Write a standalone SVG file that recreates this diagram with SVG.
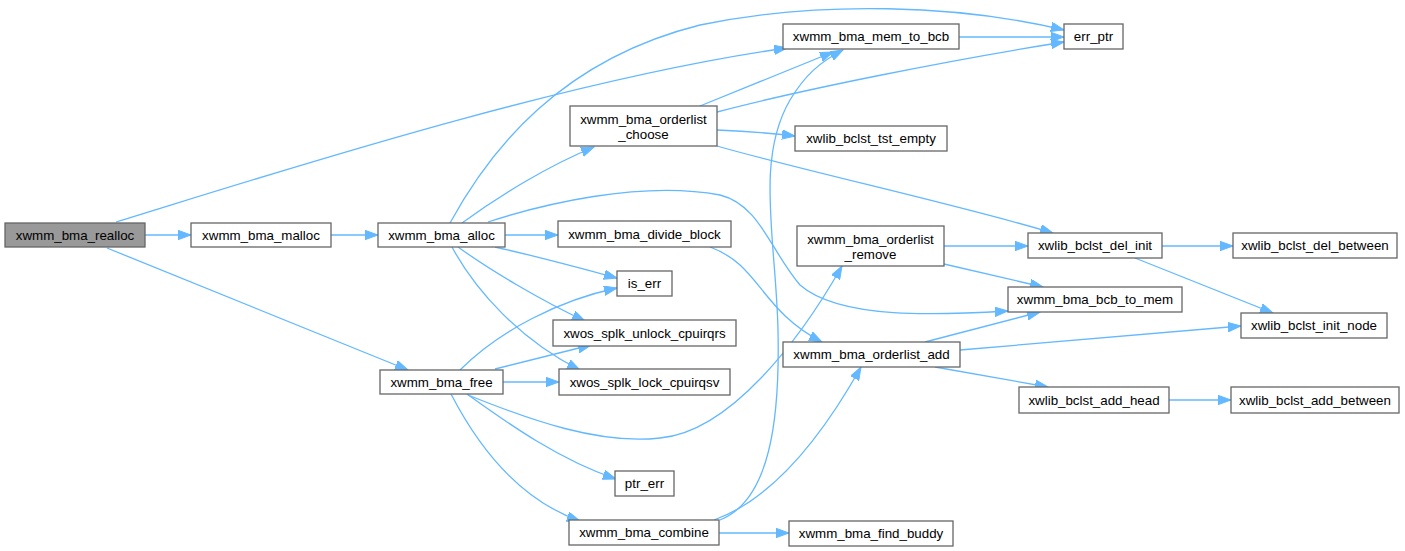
<svg xmlns="http://www.w3.org/2000/svg" width="1405" height="551" viewBox="0 0 1405 551">
<style>
.n rect{fill:#ffffff;stroke:#666666;stroke-width:1.3}
.n.cur rect{fill:#999999}
.n text{font-family:"Liberation Sans",Arial,sans-serif;font-size:13.33px;fill:#000000;text-anchor:middle}
.e path{fill:none;stroke:#63b8ff;stroke-width:1.3;marker-end:url(#ah)}
</style>
<defs>
<marker id="ah" markerUnits="userSpaceOnUse" markerWidth="14" markerHeight="10" refX="13" refY="4.7" orient="auto">
<path d="M0,0 L13,4.7 L0,9.4 z" fill="#63b8ff" stroke="#63b8ff" stroke-width="1"/>
</marker>
</defs>
<rect width="1405" height="551" fill="#ffffff"/>
<g id="edges" class="e">
<path d="M145,235 L191,235"/>
<path d="M107,248 L408,370"/>
<path d="M116,222 C260,178 560,80 787,48"/>
<path d="M331,235 L378,235"/>
<path d="M450,223 C490,150 560,60 700,25 C820,0 960,5 1064,30"/>
<path d="M462,223 C500,195 550,165 594,147"/>
<path d="M488,222 C540,205 640,180 720,195 C760,205 770,250 800,285 C840,320 940,315 1008,311"/>
<path d="M505,235 L558,235"/>
<path d="M495,247 C540,257 580,268 617,278"/>
<path d="M458,247 C490,270 540,300 585,321"/>
<path d="M452,247 C475,290 520,340 580,370"/>
<path d="M460,370 C500,330 560,300 617,288"/>
<path d="M495,369 L591,345"/>
<path d="M503,382 L559,382"/>
<path d="M468,395 C530,420 600,445 660,438 C730,432 800,340 842,266"/>
<path d="M467,394 C510,425 560,460 616,479"/>
<path d="M451,394 C480,450 520,500 580,521"/>
<path d="M719,533 L789,533"/>
<path d="M714,520 C770,500 820,440 861,367"/>
<path d="M720,520 C770,500 780,420 778,330 C776,240 755,160 790,100 C805,75 820,62 843,50"/>
<path d="M700,106 L833,52"/>
<path d="M717,112 C800,90 950,60 1064,42"/>
<path d="M717,130 C740,131 770,133 795,136"/>
<path d="M717,146 C800,170 960,205 1053,233"/>
<path d="M959,37 L1064,37"/>
<path d="M710,247 C760,265 760,310 822,342"/>
<path d="M944,246 L1028,246"/>
<path d="M944,264 L1043,287"/>
<path d="M1162,246 L1233,246"/>
<path d="M1135,258 L1273,313"/>
<path d="M925,342 L1040,312"/>
<path d="M960,350 L1241,326"/>
<path d="M935,367 L1048,387"/>
<path d="M1169,400 L1231,400"/>
</g>
<g id="realloc" class="n cur"><rect x="5" y="223" width="140" height="24"/><text x="75" y="239.5">xwmm_bma_realloc</text></g>
<g id="malloc" class="n"><rect x="191" y="223" width="140" height="24"/><text x="261" y="239.5">xwmm_bma_malloc</text></g>
<g id="alloc" class="n"><rect x="378" y="223" width="127" height="24"/><text x="441.5" y="239.5">xwmm_bma_alloc</text></g>
<g id="free" class="n"><rect x="380" y="370" width="123" height="24"/><text x="441.5" y="386.5">xwmm_bma_free</text></g>
<g id="mem_to_bcb" class="n"><rect x="783" y="24" width="176" height="25"/><text x="871" y="41">xwmm_bma_mem_to_bcb</text></g>
<g id="err_ptr" class="n"><rect x="1064" y="24" width="59" height="25"/><text x="1093.5" y="41">err_ptr</text></g>
<g id="orderlist_choose" class="n"><rect x="570" y="106" width="147" height="40"/><text x="643.5" y="124">xwmm_bma_orderlist</text><text x="643.5" y="139">_choose</text></g>
<g id="tst_empty" class="n"><rect x="795" y="126" width="152" height="25"/><text x="871" y="143">xwlib_bclst_tst_empty</text></g>
<g id="divide_block" class="n"><rect x="558" y="221" width="173" height="26"/><text x="644.5" y="238.5">xwmm_bma_divide_block</text></g>
<g id="is_err" class="n"><rect x="617" y="271" width="55" height="25"/><text x="644.5" y="288">is_err</text></g>
<g id="unlock" class="n"><rect x="553" y="320" width="183" height="26"/><text x="644.5" y="337.5">xwos_splk_unlock_cpuirqrs</text></g>
<g id="lock" class="n"><rect x="559" y="369" width="171" height="26"/><text x="644.5" y="386.5">xwos_splk_lock_cpuirqsv</text></g>
<g id="ptr_err" class="n"><rect x="615" y="471" width="59" height="25"/><text x="644.5" y="488">ptr_err</text></g>
<g id="combine" class="n"><rect x="569" y="520" width="150" height="25"/><text x="644" y="537">xwmm_bma_combine</text></g>
<g id="find_buddy" class="n"><rect x="789" y="521" width="164" height="25"/><text x="871" y="538">xwmm_bma_find_buddy</text></g>
<g id="orderlist_remove" class="n"><rect x="797" y="226" width="147" height="40"/><text x="870.5" y="244">xwmm_bma_orderlist</text><text x="870.5" y="259">_remove</text></g>
<g id="orderlist_add" class="n"><rect x="783" y="342" width="177" height="25"/><text x="871.5" y="359">xwmm_bma_orderlist_add</text></g>
<g id="bcb_to_mem" class="n"><rect x="1008" y="287" width="174" height="25"/><text x="1095" y="304">xwmm_bma_bcb_to_mem</text></g>
<g id="del_init" class="n"><rect x="1028" y="233" width="134" height="25"/><text x="1095" y="250">xwlib_bclst_del_init</text></g>
<g id="del_between" class="n"><rect x="1233" y="233" width="164" height="25"/><text x="1315" y="250">xwlib_bclst_del_between</text></g>
<g id="init_node" class="n"><rect x="1241" y="313" width="146" height="25"/><text x="1314" y="330">xwlib_bclst_init_node</text></g>
<g id="add_head" class="n"><rect x="1019" y="387" width="150" height="26"/><text x="1094" y="404.5">xwlib_bclst_add_head</text></g>
<g id="add_between" class="n"><rect x="1231" y="387" width="168" height="26"/><text x="1315" y="404.5">xwlib_bclst_add_between</text></g>
</svg>
